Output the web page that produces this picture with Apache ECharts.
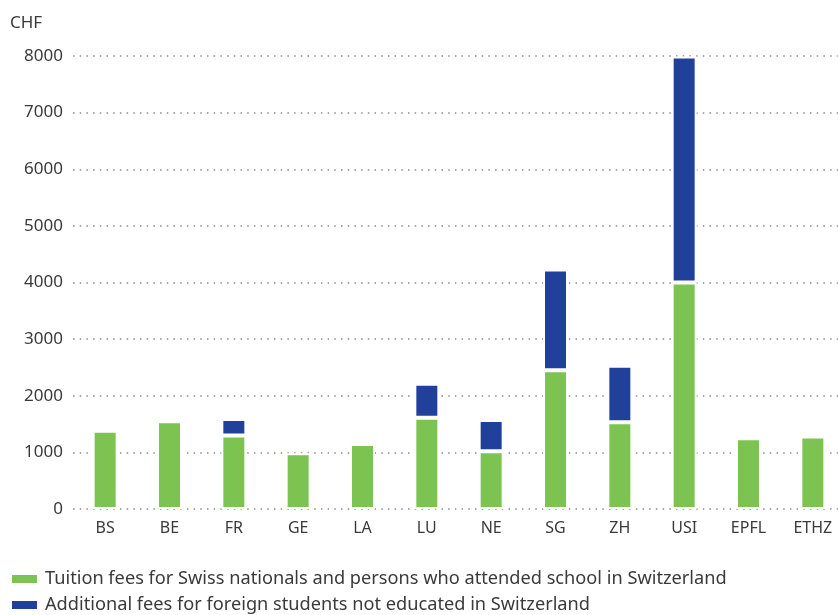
<!DOCTYPE html>
<html>
<head>
<meta charset="utf-8">
<script src="https://cdn.jsdelivr.net/npm/echarts@6/dist/echarts.min.js"></script>
<style>
html,body{margin:0;padding:0;background:#fff;}
#chart{width:838px;height:615px;}
</style>
</head>
<body>
<div id="chart"></div>
<script>
const categories = ['BS','BE','FR','GE','LA','LU','NE','SG','ZH','USI','EPFL','ETHZ'];
const swissFees = [1380, 1550, 1300, 985, 1150, 1610, 1020, 2450, 1530, 4000, 1250, 1280];
const foreignExtra = [0, 0, 290, 0, 0, 600, 550, 1780, 1000, 3990, 0, 0];
const seriesNames = [
  'Tuition fees for Swiss nationals and persons who attended school in Switzerland',
  'Additional fees for foreign students not educated in Switzerland'
];
const yTicks = { min: 0, max: 8000, interval: 1000 };
const unitLabel = 'CHF';

const FONT = '"Noto Sans", "Open Sans", sans-serif';
const TEXT = '#3a3a3a';
const legendBase = {
  left: 10, itemWidth: 27, itemHeight: 10, icon: 'rect',
  textStyle: { fontFamily: FONT, fontSize: 18.2, color: TEXT, padding: [0, 0, 0, 2] },
  padding: 0
};
const chart = echarts.init(document.getElementById('chart'), null, { renderer: 'canvas' });
chart.setOption({
  animation: false,
  backgroundColor: '#fff',
  textStyle: { fontFamily: FONT },
  grid: { left: 73, width: 772, top: 56, bottom: 106, containLabel: false, outerBoundsMode: 'none' },
  graphic: [{
    type: 'text', left: 10, top: 15,
    style: { text: unitLabel, font: '17px ' + FONT, fill: TEXT }
  }],
  legend: [
    Object.assign({}, legendBase, { top: 570, data: [seriesNames[0]] }),
    Object.assign({}, legendBase, { top: 596, data: [seriesNames[1]] })
  ],
  xAxis: {
    type: 'category',
    data: categories,
    axisLine: { show: false },
    axisTick: { show: false },
    axisLabel: { color: TEXT, fontSize: 16, margin: 11, fontFamily: FONT }
  },
  yAxis: {
    type: 'value',
    min: yTicks.min, max: yTicks.max, interval: yTicks.interval,
    axisLine: { show: false },
    axisTick: { show: false },
    axisLabel: { color: TEXT, fontSize: 17, margin: 10, fontFamily: FONT, formatter: v => String(v) },
    splitLine: { lineStyle: { color: '#8c8c8c', width: 1.5, type: [1.5, 5.2] } }
  },
  series: [
    {
      name: seriesNames[0], type: 'bar', stack: 'fees', data: swissFees,
      barWidth: 25,
      itemStyle: { color: '#7dc352', borderColor: '#ffffff', borderWidth: 2 }
    },
    {
      name: seriesNames[1], type: 'bar', stack: 'fees',
      data: foreignExtra.map(v => v === 0 ? '-' : v),
      barWidth: 25,
      itemStyle: { color: '#21409a', borderColor: '#ffffff', borderWidth: 2 }
    }
  ]
});
</script>
</body>
</html>
